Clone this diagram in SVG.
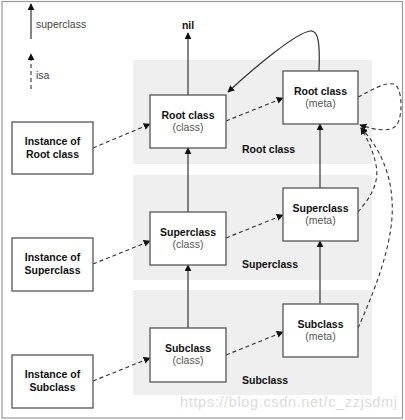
<svg xmlns="http://www.w3.org/2000/svg" width="405" height="420" viewBox="0 0 405 420">
<defs>
<marker id="ah" viewBox="0 0 10 10" refX="9" refY="5" markerWidth="7" markerHeight="7" markerUnits="userSpaceOnUse" orient="auto">
<path d="M0,0 L10,5 L0,10 z" fill="#111"/>
</marker>
<style>
.panel{fill:#efefef;stroke:none}
.box{fill:#fff;stroke:#555;stroke-width:1.3}
.t{font-family:"Liberation Sans",Arial,sans-serif;font-size:10.5px;fill:#111;text-anchor:middle}
.b{font-weight:bold}
.r{fill:#555}
.pl{font-family:"Liberation Sans",Arial,sans-serif;font-size:10.5px;font-weight:bold;fill:#111}
.sol{fill:none;stroke:#333;stroke-width:1.2;marker-end:url(#ah)}
.dsh{fill:none;stroke:#333;stroke-width:1.1;stroke-dasharray:4 3;marker-end:url(#ah)}
</style>
</defs>
<rect x="0" y="0" width="405" height="420" fill="#fff"/>
<rect x="2" y="1.5" width="400.5" height="416.5" fill="none" stroke="#999" stroke-width="1.2"/>
<g id="panels">
<rect class="panel" x="133" y="60" width="239" height="104"/>
<rect class="panel" x="133" y="175" width="239" height="105"/>
<rect class="panel" x="133" y="290" width="239" height="105"/>
<text class="pl" x="242" y="153">Root class</text>
<text class="pl" x="242" y="268">Superclass</text>
<text class="pl" x="242" y="384">Subclass</text>
</g>
<g id="legend">
<text x="36" y="28" font-family="Liberation Sans,Arial,sans-serif" font-size="10.5" fill="#444">superclass</text>
<text x="36" y="79" font-family="Liberation Sans,Arial,sans-serif" font-size="10.5" fill="#444">isa</text>
<text x="188" y="29" class="t b">nil</text>
</g>
<g id="connectors">
<path class="sol" d="M31,39 L31,4"/>
<path class="dsh" d="M31,89 L31,54"/>
<path class="sol" d="M188,95 L188,33"/>
<path class="sol" d="M188,212 L188,148"/>
<path class="sol" d="M188,328 L188,265"/>
<path class="sol" d="M320,188 L320,124"/>
<path class="sol" d="M320,304 L320,241"/>
<path class="sol" d="M319,71 C320,45 319,30 310,31 C296,33 256,66 228,92"/>
<path class="dsh" d="M93,148 L150,124"/>
<path class="dsh" d="M93,264 L150,241"/>
<path class="dsh" d="M93,381 L150,358"/>
<path class="dsh" d="M226,121 L283,98"/>
<path class="dsh" d="M226,238 L283,215"/>
<path class="dsh" d="M226,355 L283,332"/>
<path class="dsh" d="M358,97 C372,90 384,82 394,84 C403,88 403,118 396,126 C388,133 372,129 360,125"/>
<path class="dsh" d="M358,212 C368,200 380,185 376,165 C373,150 367,138 361,128"/>
<path class="dsh" d="M358,328 C375,290 395,240 392,200 C390,165 373,140 361,128"/>
</g>
<g id="inst-root">
<rect class="box" x="12" y="122" width="81" height="52"/>
<text class="t b" x="52.5" y="145">Instance of</text>
<text class="t b" x="52.5" y="158">Root class</text>
</g>
<g id="inst-super">
<rect class="box" x="12" y="238" width="81" height="53"/>
<text class="t b" x="52.5" y="261">Instance of</text>
<text class="t b" x="52.5" y="274">Superclass</text>
</g>
<g id="inst-sub">
<rect class="box" x="12" y="355" width="81" height="53"/>
<text class="t b" x="52.5" y="378">Instance of</text>
<text class="t b" x="52.5" y="391">Subclass</text>
</g>
<g id="root-class">
<rect class="box" x="150" y="95" width="76" height="53"/>
<text class="t b" x="188" y="119">Root class</text>
<text class="t r" x="188" y="131">(class)</text>
</g>
<g id="super-class">
<rect class="box" x="150" y="212" width="76" height="53"/>
<text class="t b" x="188" y="236">Superclass</text>
<text class="t r" x="188" y="248">(class)</text>
</g>
<g id="sub-class">
<rect class="box" x="150" y="328" width="76" height="54"/>
<text class="t b" x="188" y="352">Subclass</text>
<text class="t r" x="188" y="364">(class)</text>
</g>
<g id="root-meta">
<rect class="box" x="283" y="71" width="75" height="53"/>
<text class="t b" x="320.5" y="95">Root class</text>
<text class="t r" x="320.5" y="107">(meta)</text>
</g>
<g id="super-meta">
<rect class="box" x="283" y="188" width="75" height="53"/>
<text class="t b" x="320.5" y="212">Superclass</text>
<text class="t r" x="320.5" y="224">(meta)</text>
</g>
<g id="sub-meta">
<rect class="box" x="283" y="304" width="75" height="53"/>
<text class="t b" x="320.5" y="328">Subclass</text>
<text class="t r" x="320.5" y="340">(meta)</text>
</g>
<text x="180" y="407" font-family="Liberation Sans,Arial,sans-serif" font-size="14.5" fill="#d4d4d4" opacity="0.8" textLength="217">https://blog.csdn.net/c_zzjsdmj</text>
</svg>
